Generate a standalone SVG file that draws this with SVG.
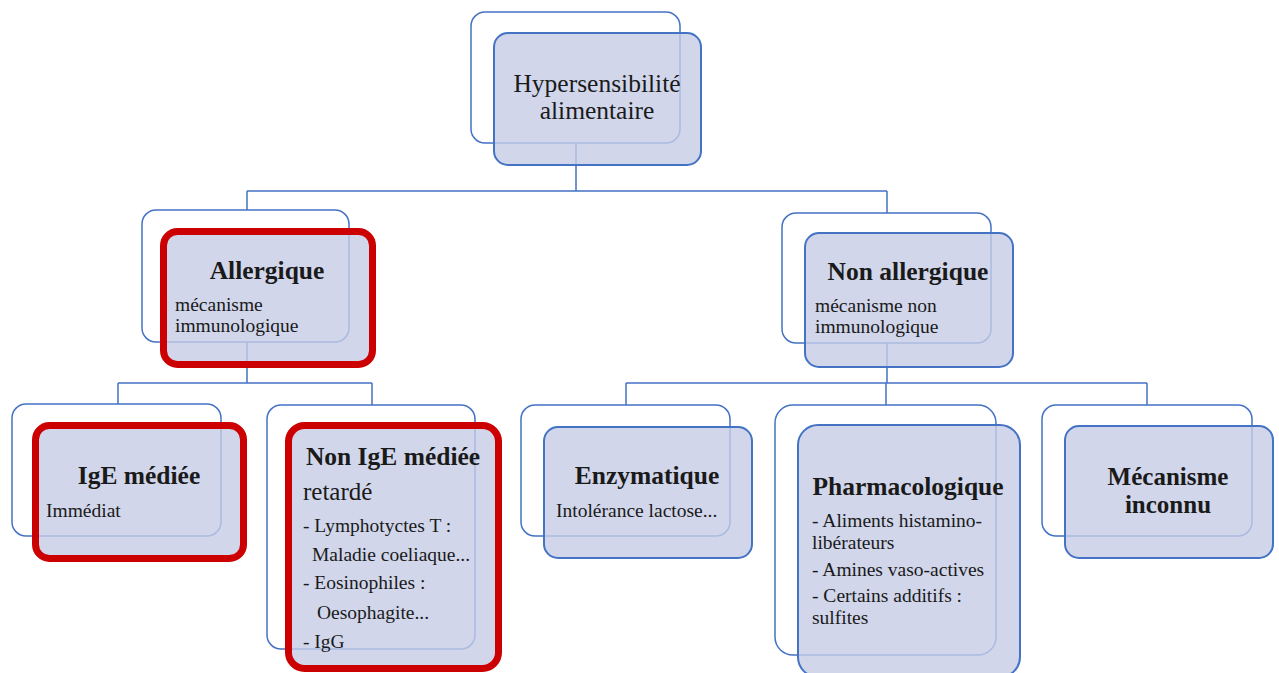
<svg xmlns="http://www.w3.org/2000/svg" width="1279" height="673" viewBox="0 0 1279 673">
<style>
.back{fill:#ffffff;stroke:#4472c4;stroke-width:1.5}
.front{fill:#c6cce6;fill-opacity:0.8;stroke:#4472c4;stroke-width:2}
.red{fill:#c6cce6;fill-opacity:0.8;stroke:#cc0000;stroke-width:7}
.conn{fill:none;stroke:#4472c4;stroke-width:1.5}
text{font-family:"Liberation Serif","Times New Roman",serif;fill:#1a1a1a}
.t{font-size:25.5px;font-weight:bold}
.tc{text-anchor:middle}
.s{font-size:19.5px}
.top{font-size:25.5px}
</style>
<rect width="1279" height="673" fill="#ffffff"/>
<g id="connectors">
<path class="conn" d="M576,143 V191 M247,191 H887 M247,191 V210 M887,191 V213"/>
<path class="conn" d="M247,342 V383 M118,383 H372 M118,383 V404 M372,383 V405"/>
<path class="conn" d="M887,343 V383 M626,383 H1147 M626,383 V405 M886,383 V405 M1147,383 V405"/>
</g>
<g id="node-hypersensibilite">
<rect class="back" x="471" y="12" width="209" height="131" rx="14"/>
<rect class="front" x="494" y="33" width="207" height="132" rx="14"/>
<text class="top tc" x="597" y="92">Hypersensibilité</text>
<text class="top tc" x="597" y="119">alimentaire</text>
</g>
<g id="node-allergique">
<rect class="back" x="142" y="210" width="207" height="132" rx="14"/>
<rect class="red" x="163.5" y="231.5" width="209" height="133" rx="14"/>
<text class="t tc" x="267" y="279">Allergique</text>
<text class="s" x="175" y="310.5">mécanisme</text>
<text class="s" x="175" y="332">immunologique</text>
</g>
<g id="node-non-allergique">
<rect class="back" x="782" y="213" width="209" height="130" rx="14"/>
<rect class="front" x="805" y="233" width="208" height="134" rx="14"/>
<text class="t tc" x="908" y="280">Non allergique</text>
<text class="s" x="815" y="311.5">mécanisme non</text>
<text class="s" x="815" y="333">immunologique</text>
</g>
<g id="node-ige">
<rect class="back" x="12" y="404" width="209" height="132" rx="14"/>
<rect class="red" x="35.5" y="425.5" width="208" height="133" rx="14"/>
<text class="t tc" x="139" y="484">IgE médiée</text>
<text class="s" x="46" y="517">Immédiat</text>
</g>
<g id="node-non-ige">
<rect class="back" x="267" y="405" width="208" height="244" rx="14"/>
<rect class="red" x="288.5" y="425.5" width="210" height="243" rx="16"/>
<text class="t tc" x="393" y="465">Non IgE médiée</text>
<text x="303" y="500" style="font-size:25px">retardé</text>
<text class="s" x="303" y="532">- Lymphotyctes T :</text>
<text class="s" x="312" y="561">Maladie coeliaque...</text>
<text class="s" x="303" y="589">- Eosinophiles :</text>
<text class="s" x="317" y="619">Oesophagite...</text>
<text class="s" x="303" y="648">- IgG</text>
</g>
<g id="node-enzymatique">
<rect class="back" x="521" y="405" width="209" height="131" rx="14"/>
<rect class="front" x="544" y="427" width="208" height="131" rx="14"/>
<text class="t tc" x="647" y="484">Enzymatique</text>
<text class="s" x="556" y="517">Intolérance lactose...</text>
</g>
<g id="node-pharmacologique">
<rect class="back" x="775" y="405" width="221" height="250" rx="18"/>
<rect class="front" x="798" y="425" width="222" height="252" rx="20"/>
<text class="t tc" x="908" y="495">Pharmacologique</text>
<text class="s" x="812" y="527">- Aliments histamino-</text>
<text class="s" x="812" y="548.5">libérateurs</text>
<text class="s" x="812" y="576">- Amines vaso-actives</text>
<text class="s" x="812" y="602">- Certains additifs :</text>
<text class="s" x="812" y="623.5">sulfites</text>
</g>
<g id="node-mecanisme-inconnu">
<rect class="back" x="1042" y="405" width="210" height="131" rx="14"/>
<rect class="front" x="1065" y="426" width="208" height="132" rx="14"/>
<text class="t tc" x="1168" y="485" style="font-size:25px">Mécanisme</text>
<text class="t tc" x="1168" y="513" style="font-size:25px">inconnu</text>
</g>
</svg>
